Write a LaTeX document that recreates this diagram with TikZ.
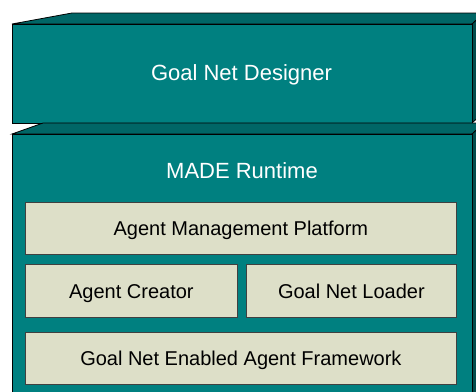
\documentclass[tikz,border=0pt]{standalone}
\usepackage{fontspec}
\setmainfont{Liberation Sans}
\definecolor{tealfront}{HTML}{008080}
\definecolor{tealtop}{HTML}{006666}
\definecolor{tealside}{HTML}{004C4C}
\definecolor{beige}{HTML}{DDDFC8}
\begin{document}
\begin{tikzpicture}[x=1pt,y=-1pt,
  front/.style={draw=black,fill=tealfront,line width=0.8pt},
  topface/.style={draw=black,fill=tealtop,line width=0.8pt},
  sideface/.style={draw=black,fill=tealside,line width=0.8pt},
  module/.style={draw=black!75,fill=beige,line width=0.8pt,inner sep=0pt,anchor=north west,text height=14.3pt,text depth=0pt,font=\fontsize{20}{24}\selectfont},
  title/.style={text=white,inner sep=0pt,text height=15.8pt,text depth=0pt,font=\fontsize{22}{26}\selectfont}]
\useasboundingbox (0,0) rectangle (476,391);
\begin{scope}
\clip (0,0) rectangle (476,391);
% top block
\draw[topface] (12,24) -- (72,13) -- (484,13) -- (472,24) -- cycle;
\draw[sideface] (472,24) -- (484,13) -- (484,112) -- (472,123) -- cycle;
\node[front,minimum width=460pt,minimum height=99pt,inner sep=0pt,anchor=north west] (designer) at (12,24) {};
\node[title] (designerlabel) at (241.5,72.5) {Goal Net Designer};
% bottom block
\draw[topface] (12,134) -- (43,123) -- (484,123) -- (472,134) -- cycle;
\draw[sideface] (472,134) -- (484,123) -- (484,400) -- (472,400) -- cycle;
\node[front,minimum width=460pt,minimum height=270pt,inner sep=0pt,anchor=north west] (runtime) at (12,134) {};
\node[title] (runtimelabel) at (242,170.5) {MADE Runtime};
\end{scope}
% modules
\node[module,minimum width=431pt,minimum height=52pt] (amp) at (25,202) {Agent Management Platform};
\node[module,minimum width=212pt,minimum height=53pt] (creator) at (25,264) {Agent Creator};
\node[module,minimum width=210pt,minimum height=53pt] (loader) at (246,264) {Goal Net Loader};
\node[module,minimum width=431pt,minimum height=52pt] (framework) at (25,332) {Goal Net Enabled Agent Framework};
\end{tikzpicture}
\end{document}
